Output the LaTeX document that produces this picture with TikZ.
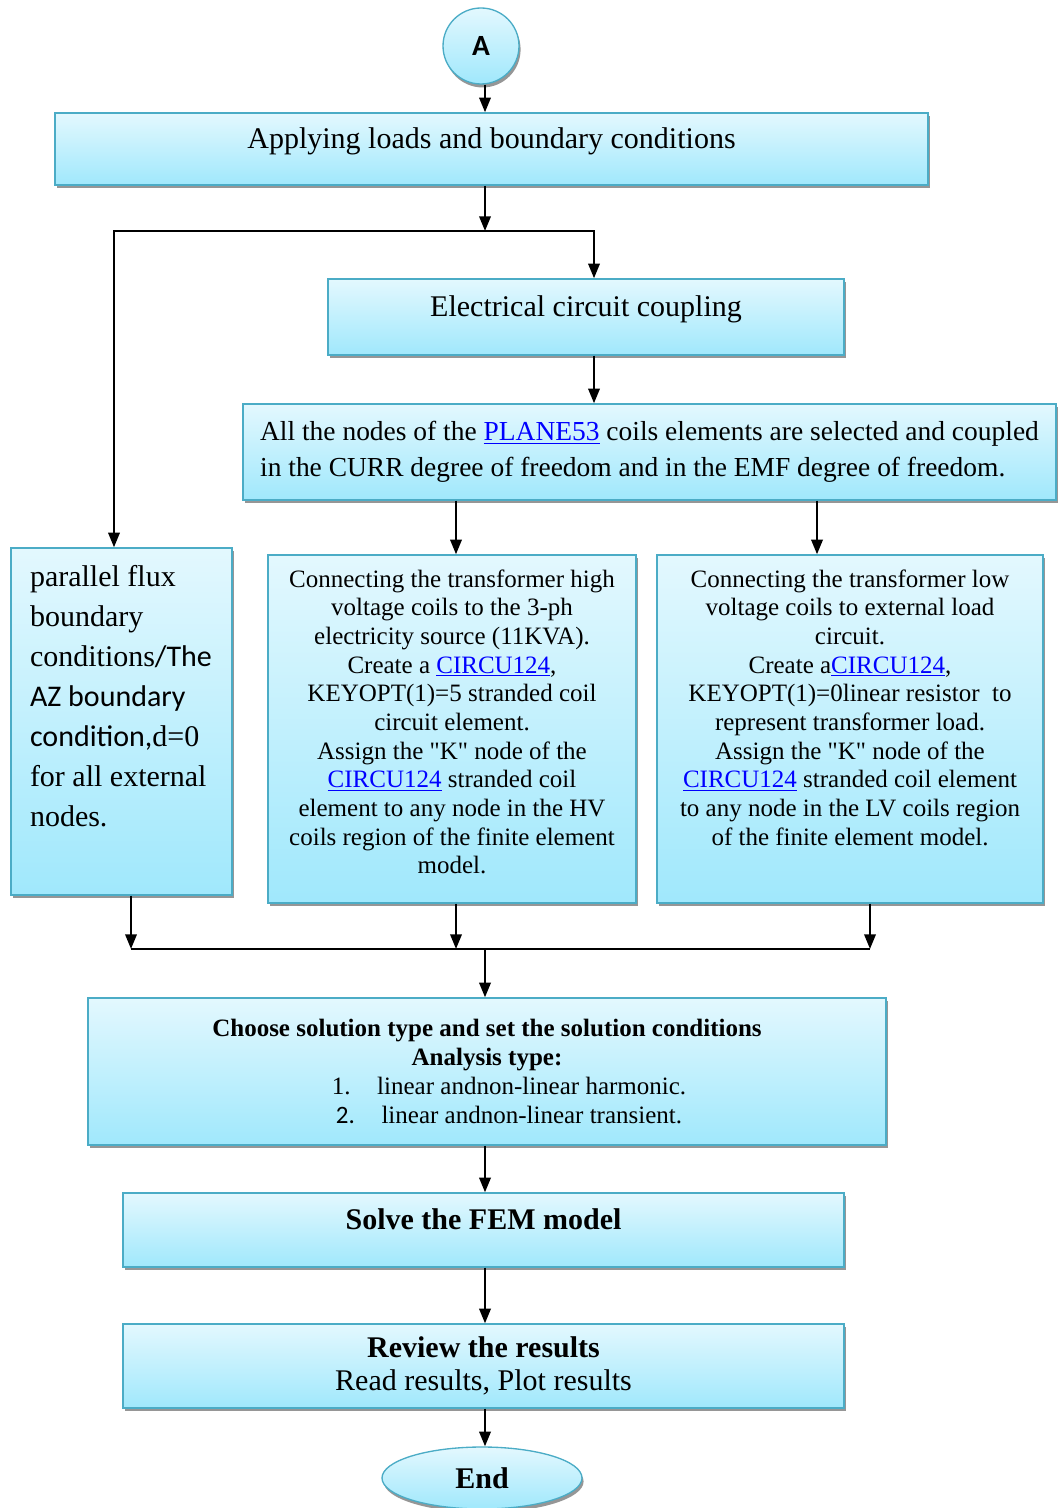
\documentclass[tikz,border=0pt]{standalone}
\usepackage{fontspec}
\setmainfont{Liberation Serif}
\newfontfamily\sansfnt{Carlito}
\usetikzlibrary{arrows.meta}
\usetikzlibrary{positioning}
\usetikzlibrary{shapes.geometric}
\usetikzlibrary{shadows}
\definecolor{boxedge}{RGB}{75,172,198}
\definecolor{boxtop}{RGB}{227,248,254}
\definecolor{boxbot}{RGB}{160,232,252}
\definecolor{boxshade}{RGB}{150,150,150}
\newcommand{\weblink}[1]{\textcolor{blue}{\underline{#1}}}
\newcommand{\bigtxt}{\fontsize{22.5pt}{27pt}\selectfont}
\newcommand{\planetxt}{\fontsize{20.6pt}{27pt}\selectfont}
\newcommand{\fluxtxt}{\fontsize{22.5pt}{30pt}\selectfont}
\newcommand{\midtxt}{\fontsize{18.75pt}{21.5pt}\selectfont}
\newcommand{\soltxt}{\fontsize{18.75pt}{21.75pt}\selectfont}
\newcommand{\revtxt}{\fontsize{22.5pt}{24.75pt}\selectfont}

\begin{document}
\begin{tikzpicture}[x=0.75pt, y=-0.75pt,
	box/.style={draw=boxedge, line width=1pt, top color=boxtop, bottom color=boxbot,
		drop shadow={shadow xshift=1.2pt, shadow yshift=-2.6pt, fill=boxshade, opacity=1}},
	flowline/.style={line width=1.8pt},
	flowarrow/.style={line width=1.8pt, -{Triangle[length=11pt,width=8.5pt]}},
	toppad/.style={text depth=17pt}]
	\useasboundingbox (0,0) rectangle (1057,1508);
	% start connector
	\node[box, circle, minimum size=57pt, inner sep=0pt, font=\sansfnt\bfseries\fontsize{22pt}{22pt}\selectfont] (conA) at (481,46) {A};
	% boxes
	\node[box, minimum width=654.75pt, minimum height=54pt, toppad, font=\bigtxt] (loads) at (491.5,149) {Applying loads and boundary conditions};
	\node[box, minimum width=387pt, minimum height=57pt, toppad, font=\bigtxt] (circuit) at (586,317) {Electrical circuit coupling};
	\node[box, minimum width=609.75pt, minimum height=72pt, inner xsep=0pt, align=left, font=\planetxt] (plane) at (649.5,452) {All the nodes of the \weblink{PLANE53} coils elements are selected and coupled\\in the CURR degree of freedom and in the EMF degree of freedom.};
	\node[box, inner sep=0pt] (flux) at (121.5,721.5) {\parbox[c][260.25pt][t]{165.75pt}{\fluxtxt\raggedright\leftskip=14.25pt\vspace*{13pt}parallel flux\\boundary\\conditions{\sansfnt/The}\\{\sansfnt AZ boundary}\\{\sansfnt condition,}d=0\\for all external\\nodes.}};
	\node[box, inner sep=0pt] (hv) at (452,729) {\parbox[c][261pt][t]{276pt}{\midtxt\centering\vspace*{11pt}Connecting the transformer high\\voltage coils to the 3-ph\\electricity source (11KVA).\\Create a \weblink{CIRCU124},\\KEYOPT(1)=5 stranded coil\\circuit element.\\Assign the \textquotedbl K\textquotedbl{} node of the\\\weblink{CIRCU124} stranded coil\\element to any node in the HV\\coils region of the finite element\\model.}};
	\node[box, inner sep=0pt] (lv) at (850,729) {\parbox[c][261pt][t]{289.5pt}{\midtxt\centering\vspace*{11pt}Connecting the transformer low\\voltage coils to external load\\circuit.\\Create a\weblink{CIRCU124},\\KEYOPT(1)=0linear resistor\ \ to\\represent transformer load.\\Assign the \textquotedbl K\textquotedbl{} node of the\\\weblink{CIRCU124} stranded coil element\\to any node in the LV coils region\\of the finite element model.}};
	\node[box, minimum width=598.5pt, minimum height=110.25pt, align=center, font=\soltxt] (solution) at (487,1071.5) {\textbf{Choose solution type and set the solution conditions}\\\textbf{Analysis type:}\\\hspace*{33pt}1.\hspace{20pt}linear andnon-linear harmonic.\\\hspace*{33pt}{\sansfnt 2.}\hspace{20pt}linear andnon-linear transient.};
	\node[box, minimum width=540.75pt, minimum height=55.5pt, toppad, font=\bigtxt\bfseries] (solve) at (483.5,1230) {Solve the FEM model};
	\node[box, minimum width=540.75pt, minimum height=63pt, align=center, font=\revtxt] (review) at (483.5,1366) {\textbf{Review the results}\\Read results, Plot results};
	\node[box, ellipse, minimum width=150pt, minimum height=46.5pt, inner sep=0pt, font=\bigtxt\bfseries] (theend) at (482,1478) {End};
	% junction points
	\coordinate (spine) at (485,0);
	\coordinate (split) at (485,231);
	\coordinate (lturn) at (114,231);
	\coordinate (rturn) at (594,231);
	\coordinate (hvx) at (456,0);
	\coordinate (lvx) at (817,0);
	\coordinate (mleft) at (131,949);
	\coordinate (mmid) at (456,949);
	\coordinate (mright) at (870,949);
	\coordinate (merge) at (485,949);
	% draw connectors
	\draw[flowarrow] (spine |- conA.south) -- (spine |- loads.north);
	\draw[flowarrow] (spine |- loads.south) -- (split);
	\draw[flowarrow] (split) -- (lturn) -- (lturn |- flux.north);
	\draw[flowarrow] (split) -- (rturn) -- (rturn |- circuit.north);
	\draw[flowarrow] (rturn |- circuit.south) -- (rturn |- plane.north);
	\draw[flowarrow] (hvx |- plane.south) -- (hvx |- hv.north);
	\draw[flowarrow] (lvx |- plane.south) -- (lvx |- lv.north);
	\draw[flowarrow] (mleft |- flux.south) -- (mleft);
	\draw[flowarrow] (mmid |- hv.south) -- (mmid);
	\draw[flowarrow] (mright |- lv.south) -- (mright);
	\draw[flowline] (mleft) -- (mright);
	\draw[flowarrow] (merge) -- (merge |- solution.north);
	\draw[flowarrow] (spine |- solution.south) -- (spine |- solve.north);
	\draw[flowarrow] (spine |- solve.south) -- (spine |- review.north);
	\draw[flowarrow] (spine |- review.south) -- (spine |- theend.north);
\end{tikzpicture}
\end{document}
